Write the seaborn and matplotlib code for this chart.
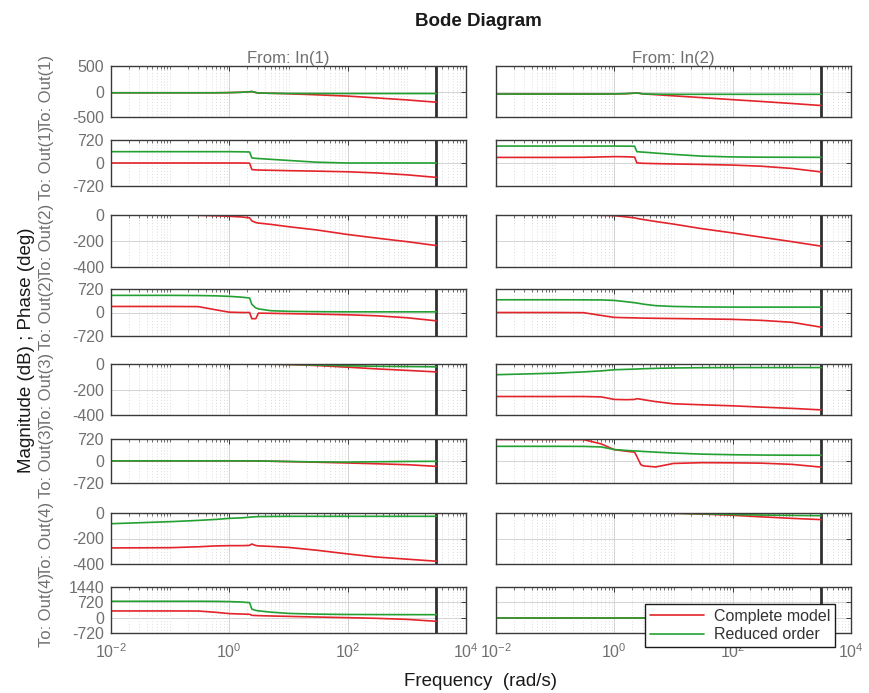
import numpy as np
import pandas as pd
import matplotlib
matplotlib.use("Agg")
import matplotlib.pyplot as plt
from matplotlib.ticker import FixedLocator, NullFormatter, FixedFormatter
import seaborn as sns

# ---------------------------------------------------------------- data
# frequency breakpoints (rad/s); last one is the Nyquist frequency
freq = [0.01, 0.1, 0.3, 0.6, 1, 1.6, 2.2, 2.4, 2.8, 3.1, 5, 10, 30, 100, 300, 1000, 3141.6]
nyquist = 3141.6

models = ["Complete model", "Reduced order"]

# To: Out(1)
o1i1_mag_full = [-25, -25, -25, -25, -22, -15, -5, 0, -20, -30, -35, -45, -65, -90, -125, -165, -210]
o1i1_mag_red = [-25, -25, -25, -25, -22, -15, -5, 0, -20, -30, -35, -38, -40, -40, -40, -40, -40]
o1i2_mag_full = [-50, -50, -50, -50, -48, -42, -32, -28, -40, -48, -62, -85, -120, -160, -195, -235, -275]
o1i2_mag_red = [-50, -50, -50, -50, -48, -42, -32, -28, -40, -48, -52, -55, -55, -55, -55, -55, -55]
o1i1_ph_full = [0, 0, 0, 0, 0, 0, -5, -205, -215, -220, -228, -240, -255, -275, -310, -370, -450]
o1i1_ph_red = [355, 355, 355, 355, 355, 350, 345, 160, 145, 140, 115, 80, 25, 0, 0, 0, 0]
o1i2_ph_full = [175, 175, 178, 190, 200, 195, 185, 5, -5, -10, -20, -30, -45, -65, -100, -170, -280]
o1i2_ph_red = [530, 530, 530, 530, 530, 528, 525, 355, 345, 340, 310, 270, 215, 190, 182, 180, 178]

# To: Out(2)
o2i1_mag_full = [0, 0, -2, -6, -10, -15, -22, -45, -58, -62, -72, -90, -115, -150, -177, -205, -235]
o2i1_mag_red = [0, 0, 0, 0, 0, 0, 0, 0, 0, 0, 0, 0, 0, 0, 0, 0, 0]
o2i2_mag_full = [0, 0, 0, -2, -5, -15, -22, -26, -32, -35, -50, -70, -105, -138, -170, -205, -240]
o2i2_mag_red = [0, 0, 0, 0, 0, 0, 0, 0, 0, 0, 0, 0, 0, 0, 0, 0, 0]
o2i1_ph_full = [185, 185, 180, 80, 10, 0, 0, -190, -190, -20, -25, -35, -50, -70, -100, -160, -255]
o2i1_ph_red = [525, 525, 520, 510, 495, 470, 445, 250, 140, 110, 55, 35, 25, 20, 20, 20, 20]
o2i2_ph_full = [0, 0, -5, -90, -150, -160, -165, -168, -170, -172, -178, -185, -195, -210, -240, -300, -450]
o2i2_ph_red = [390, 390, 388, 385, 370, 330, 300, 290, 270, 255, 210, 185, 170, 165, 165, 165, 165]

# To: Out(3)
o3i1_mag_full = [0, 0, 0, 0, 0, 0, 0, 0, 0, 0, -1, -4, -12, -25, -38, -50, -62]
o3i1_mag_red = [0, 0, 0, 0, 0, 0, 0, 0, 0, 0, -1, -3, -8, -14, -18, -20, -22]
o3i2_mag_full = [-255, -255, -255, -258, -278, -280, -278, -272, -276, -280, -295, -312, -320, -328, -338, -348, -360]
o3i2_mag_red = [-84, -72, -62, -54, -45, -42, -40, -39, -38, -37, -34, -31, -29, -28, -28, -28, -28]
o3i1_ph_full = [5, 5, 5, 5, 5, 4, 3, 3, 2, 0, -8, -20, -40, -65, -90, -120, -175]
o3i1_ph_red = [5, 5, 5, 5, 5, 4, 3, 3, 2, 0, -5, -15, -30, -35, -25, -15, -10]
o3i2_ph_full = [705, 705, 700, 560, 370, 320, 290, 150, -120, -160, -195, -80, -55, -60, -70, -110, -200]
o3i2_ph_red = [480, 480, 478, 460, 375, 345, 330, 325, 318, 312, 290, 260, 225, 205, 195, 190, 188]

# To: Out(4)
o4i1_mag_full = [-274, -272, -265, -258, -256, -256, -254, -243, -255, -258, -262, -270, -292, -321, -345, -362, -378]
o4i1_mag_red = [-84, -68, -58, -50, -42, -38, -33, -31, -29, -28, -27, -26, -26, -26, -26, -26, -26]
o4i2_mag_full = [0, 0, 0, 0, 0, 0, 0, 0, 0, 0, 0, -2, -8, -18, -30, -42, -52]
o4i2_mag_red = [0, 0, 0, 0, 0, 0, 0, 0, 0, 0, 0, -2, -6, -12, -16, -19, -21]
o4i1_ph_full = [315, 315, 312, 250, 190, 170, 160, 110, 100, 95, 80, 60, 30, 0, -30, -80, -170]
o4i1_ph_red = [770, 770, 770, 765, 755, 735, 705, 400, 340, 320, 260, 200, 165, 150, 145, 142, 140]
o4i2_ph_full = [0, 0, 0, 0, 0, 0, 0, 0, 0, 0, 0, 0, 0, 0, 0, 0, 0]
o4i2_ph_red = [0, 0, 0, 0, 0, 0, 0, 0, 0, 0, 0, 0, 0, 0, 0, 0, 0]

col_titles = ["From: In(1)", "From: In(2)"]
row_labels = ["To: Out(1)", "To: Out(1)", "To: Out(2)", "To: Out(2)",
              "To: Out(3)", "To: Out(3)", "To: Out(4)", "To: Out(4)"]
row_ylim = [(-500, 500), (-720, 720), (-400, 0), (-720, 720),
            (-400, 0), (-720, 720), (-400, 0), (-720, 1440)]
row_yticks = [[-500, 0, 500], [-720, 0, 720], [-400, -200, 0], [-720, 0, 720],
              [-400, -200, 0], [-720, 0, 720], [-400, -200, 0], [-720, 0, 720, 1440]]
x_ticks = [1e-2, 1e0, 1e2, 1e4]
x_ticklabels = [r"$\mathregular{10^{-2}}$", r"$\mathregular{10^{0}}$",
                r"$\mathregular{10^{2}}$", r"$\mathregular{10^{4}}$"]

panel_data = [
    [(o1i1_mag_full, o1i1_mag_red), (o1i2_mag_full, o1i2_mag_red)],
    [(o1i1_ph_full, o1i1_ph_red), (o1i2_ph_full, o1i2_ph_red)],
    [(o2i1_mag_full, o2i1_mag_red), (o2i2_mag_full, o2i2_mag_red)],
    [(o2i1_ph_full, o2i1_ph_red), (o2i2_ph_full, o2i2_ph_red)],
    [(o3i1_mag_full, o3i1_mag_red), (o3i2_mag_full, o3i2_mag_red)],
    [(o3i1_ph_full, o3i1_ph_red), (o3i2_ph_full, o3i2_ph_red)],
    [(o4i1_mag_full, o4i1_mag_red), (o4i2_mag_full, o4i2_mag_red)],
    [(o4i1_ph_full, o4i1_ph_red), (o4i2_ph_full, o4i2_ph_red)],
]

# ---------------------------------------------------------------- style
sns.set_theme(style="white")
plt.rcParams["font.family"] = ["Liberation Sans", "DejaVu Sans"]
plt.rcParams["mathtext.fontset"] = "custom"
plt.rcParams["mathtext.rm"] = "Liberation Sans"
plt.rcParams["axes.unicode_minus"] = False

palette = {"Complete model": "#e3242b", "Reduced order": "#24a032"}
grey_text = "#707070"
frame_col = "#3a3a3a"

W, H = 869, 693
fig = plt.figure(figsize=(W / 100, H / 100), dpi=100)
fig.patch.set_facecolor("white")

col_x = [(111, 466), (496, 851)]
row_y = [(66, 117), (140, 186), (215, 267), (289, 336),
         (364, 415), (439, 483), (513, 564), (587, 633)]


def px_rect(x0, x1, y0, y1):
    return [x0 / W, 1 - y1 / H, (x1 - x0) / W, (y1 - y0) / H]


minor_locs = sorted({k * 10.0 ** e for e in range(-2, 4) for k in range(1, 10)}
                    - {1e-2, 1e0, 1e2})

legend_ax = None
for r, (y0, y1) in enumerate(row_y):
    for c, (x0, x1) in enumerate(col_x):
        ax = fig.add_axes(px_rect(x0, x1, y0, y1))
        full, red = panel_data[r][c]
        df = pd.DataFrame({
            "freq": freq + freq,
            "value": full + red,
            "model": [models[0]] * len(freq) + [models[1]] * len(freq),
        })
        last = (r == len(row_y) - 1 and c == 1)
        sns.lineplot(data=df, x="freq", y="value", hue="model", hue_order=models,
                     palette=palette, linewidth=1.2, errorbar=None, ax=ax,
                     legend=last)
        ax.set_xscale("log")
        ax.set_xlim(1e-2, 1e4)
        ax.set_ylim(*row_ylim[r])
        ax.set_yticks(row_yticks[r])
        ax.xaxis.set_major_locator(FixedLocator(x_ticks))
        ax.xaxis.set_minor_locator(FixedLocator(minor_locs))
        ax.xaxis.set_minor_formatter(NullFormatter())
        if r == len(row_y) - 1:
            ax.xaxis.set_major_formatter(FixedFormatter(x_ticklabels))
        else:
            ax.xaxis.set_major_formatter(NullFormatter())
        if c == 1:
            ax.set_yticklabels([])
        ax.set_xlabel("")
        ax.set_ylabel("")

        # grid
        ax.grid(True, which="major", color="#d4d4d4", linewidth=0.7, linestyle="-")
        ax.grid(True, which="minor", axis="x", color="#d0d0d0", linewidth=0.6,
                linestyle=(0, (1, 2.5)))
        ax.set_axisbelow(True)

        # Nyquist frequency marker
        ax.axvline(nyquist, color="#303030", linewidth=2.0, zorder=1.5)

        ax.tick_params(axis="both", which="both", direction="in", top=True,
                       right=True, colors=frame_col, labelcolor=grey_text,
                       labelsize=11.5)
        ax.tick_params(axis="both", which="major", length=3.5, width=0.7)
        ax.tick_params(axis="x", which="minor", length=2, width=0.5)
        ax.tick_params(axis="y", which="major", pad=5)
        ax.tick_params(axis="x", which="major", pad=7)
        for s in ax.spines.values():
            s.set_visible(True)
            s.set_color(frame_col)
            s.set_linewidth(1.0)
        if last:
            legend_ax = ax

# legend in the bottom-right panel
handles, labels = legend_ax.get_legend_handles_labels()
leg = legend_ax.legend(handles, labels, loc="lower right",
                       bbox_to_anchor=(835 / W, 1 - 647 / H),
                       bbox_transform=fig.transFigure, borderaxespad=0,
                       fontsize=11.5, handlelength=3.4, handletextpad=0.6,
                       borderpad=0.3, labelspacing=0.2, fancybox=False,
                       framealpha=1, edgecolor="#1a1a1a")
leg.get_frame().set_linewidth(1.0)
for t in leg.get_texts():
    t.set_color("#333333")

# titles and labels
fig.text(478 / W, 1 - 21 / H, "Bode Diagram", ha="center", va="center",
         fontsize=13.5, fontweight="bold", color="#1a1a1a")
for c, (x0, x1) in enumerate(col_x):
    fig.text((x0 + x1) / 2 / W, 1 - 58 / H, col_titles[c], ha="center",
             va="center", fontsize=12, color=grey_text)
for r, (y0, y1) in enumerate(row_y):
    fig.text(47 / W, 1 - (y0 + y1) / 2 / H, row_labels[r], rotation=90,
             ha="center", va="center", fontsize=12, color=grey_text)
fig.text(27 / W, 1 - 350 / H, "Magnitude (dB) ; Phase (deg)", rotation=90,
         ha="center", va="center", fontsize=13.5, color="#1a1a1a")
fig.text(481 / W, 1 - 682 / H, "Frequency  (rad/s)", ha="center", va="center",
         fontsize=13.5, color="#1a1a1a")

fig.savefig("out.png", dpi=100, facecolor="white")
